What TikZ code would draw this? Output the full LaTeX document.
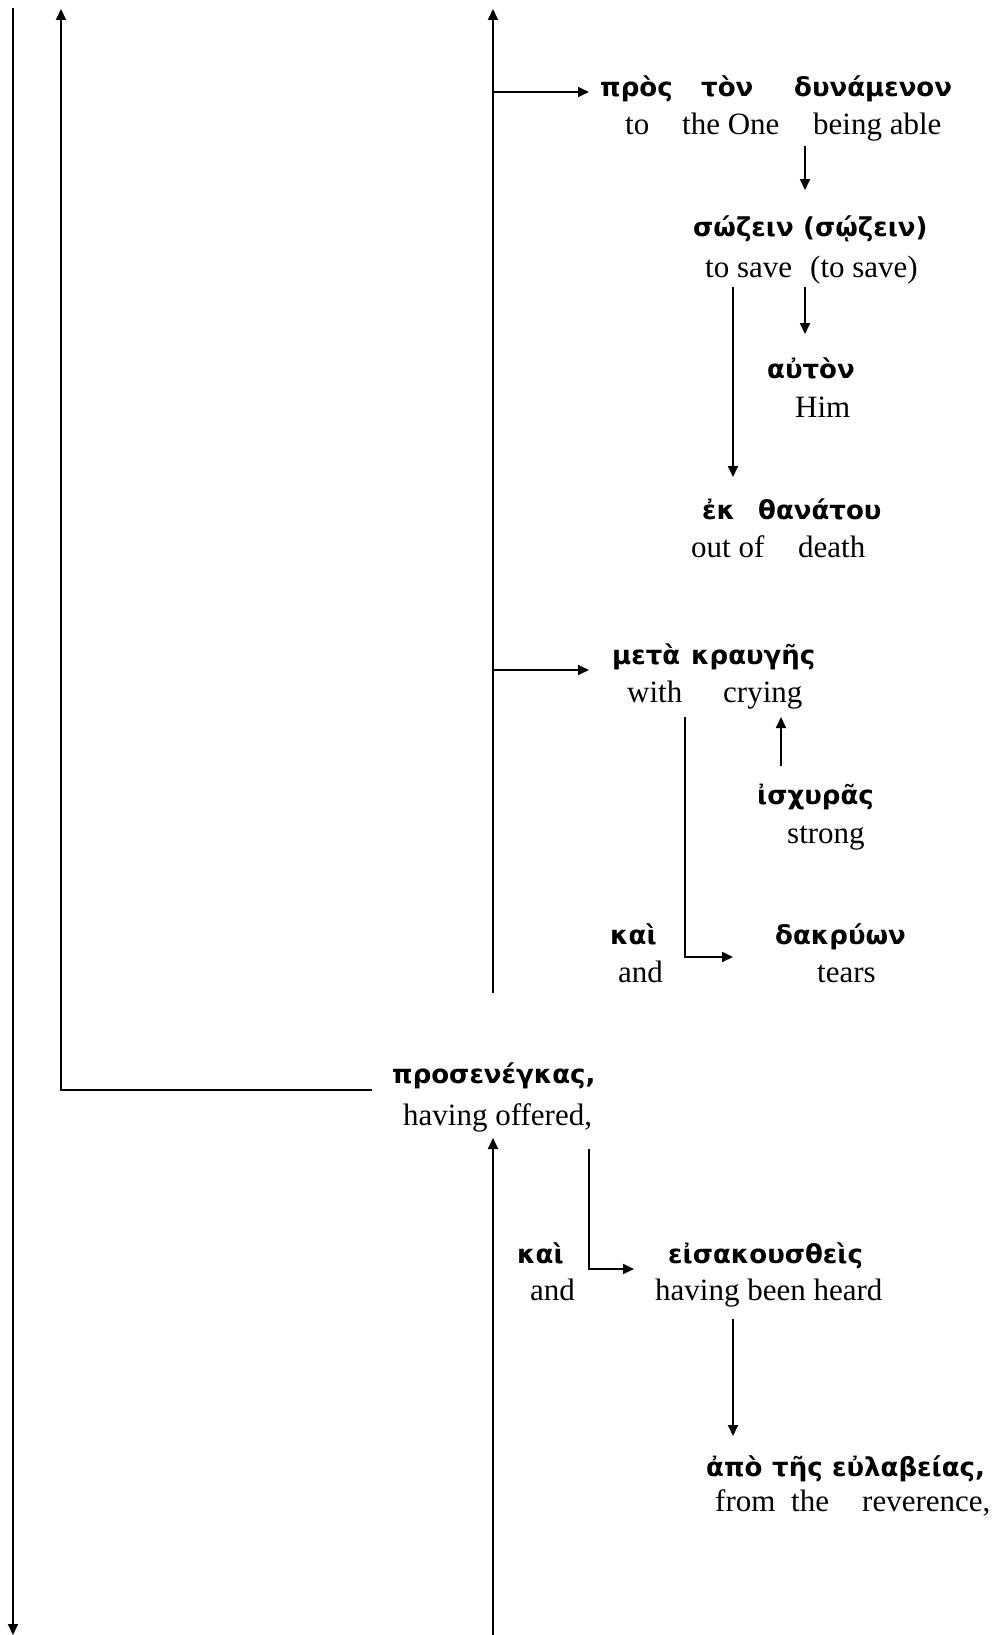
\documentclass[tikz,border=0pt]{standalone}
\usepackage{fontspec}
\setmainfont{Liberation Serif}
\newfontfamily\grkfont[Script=Greek]{DejaVu Sans}
\usepackage{tikz}
\usetikzlibrary{arrows.meta}

% word set in a box as wide as the step to the next word
\newcommand{\wbox}[2]{\makebox[#1][l]{#2}}

\tikzset{
  gk/.style={font=\grkfont\bfseries\fontsize{26}{30}\selectfont,anchor=west,
    inner sep=0pt,text height=0.5em,text depth=0pt,yshift=-4pt},
  en/.style={font=\fontsize{31}{36}\selectfont,anchor=west,
    inner sep=0pt,text height=0.5em,text depth=0pt,yshift=-8pt},
  link/.style={line width=1.8pt,-{Triangle[length=11pt,width=10pt]}}
}

\begin{document}
\begin{tikzpicture}[x=1pt,y=-1pt]
  \useasboundingbox (0,0) rectangle (1007,1635);
  % words
  \node[gk] (gpros) at (600,90) {\wbox{101pt}{πρὸς}\wbox{93pt}{τὸν}δυνάμενον};
  \node[en] (epros) at (625,124) {\wbox{57pt}{to}\wbox{131pt}{the One}being able};
  \node[gk] (gsoz) at (693,230) {\wbox{110pt}{σώζειν}(σῴζειν)};
  \node[en] (esoz) at (705,267) {\wbox{105pt}{to save}(to save)};
  \node[gk] (gauton) at (767,372) {αὐτὸν};
  \node[en] (eauton) at (795,407) {Him};
  \node[gk] (gek) at (702,513) {\wbox{56pt}{ἐκ}θανάτου};
  \node[en] (eek) at (691,547) {\wbox{107pt}{out of}death};
  \node[gk] (gmeta) at (612,658) {\wbox{79pt}{μετὰ}κραυγῆς};
  \node[en] (emeta) at (627,692) {\wbox{96pt}{with}crying};
  \node[gk] (gischy) at (757,798) {ἰσχυρᾶς};
  \node[en] (eischy) at (787,833) {strong};
  \node[gk] (gkai) at (610,938) {καὶ};
  \node[en] (ekai) at (618,972) {and};
  \node[gk] (gdakr) at (775,938) {δακρύων};
  \node[en] (edakr) at (817,972) {tears};
  \node[gk] (gprosen) at (392,1077) {προσενέγκας,};
  \node[en] (eprosen) at (403,1115) {having offered,};
  \node[gk] (gkai2) at (517,1257) {καὶ};
  \node[en] (ekai2) at (530,1290) {and};
  \node[gk] (geisak) at (668,1257) {εἰσακουσθεὶς};
  \node[en] (eeisak) at (655,1290) {having been heard};
  \node[gk] (gapo) at (706,1470) {\wbox{66pt}{ἀπὸ}\wbox{60pt}{τῆς}εὐλαβείας,};
  \node[en] (eapo) at (715,1501) {\wbox{76pt}{from}\wbox{71pt}{the}reverence,};
  % ends of the lines
  \coordinate (atop) at (13,8);
  \coordinate (abot) at (13,1635);
  \coordinate (btop) at (61,9);
  \coordinate (bbend) at (61,1090);
  \coordinate (bend) at (372,1090);
  \coordinate (ctop) at (493,9);
  \coordinate (cbot) at (493,993);
  \coordinate (cpros) at (493,92);
  \coordinate (cmeta) at (493,670);
  \coordinate (dtop) at (493,1138);
  \coordinate (dbot) at (493,1635);
  % main spines
  \draw[link] (atop) -- (abot);
  \draw[link] (bend) -- (bbend) -- (btop);
  \draw[link] (cbot) -- (ctop);
  \draw[link] (dbot) -- (dtop);
  % branches off the spine
  \draw[link] (cpros) -- (589,92) coordinate (tpros);
  \draw[link] (cmeta) -- (589,670) coordinate (tmeta);
  % upper group
  \draw[link] (805,146) coordinate (s1) -- (805,190) coordinate (t1);
  \draw[link] (805,287) coordinate (s2) -- (805,334) coordinate (t2);
  \draw[link] (733,287) coordinate (s3) -- (733,477) coordinate (t3);
  % crying and tears
  \draw[link] (685,717) coordinate (s4) -- (685,957) -- (733,957) coordinate (t4);
  \draw[link] (781,766) coordinate (s5) -- (781,717) coordinate (t5);
  % lower group
  \draw[link] (589,1149) coordinate (s6) -- (589,1269) -- (634,1269) coordinate (t6);
  \draw[link] (733,1319) coordinate (s7) -- (733,1436) coordinate (t7);
\end{tikzpicture}
\end{document}
